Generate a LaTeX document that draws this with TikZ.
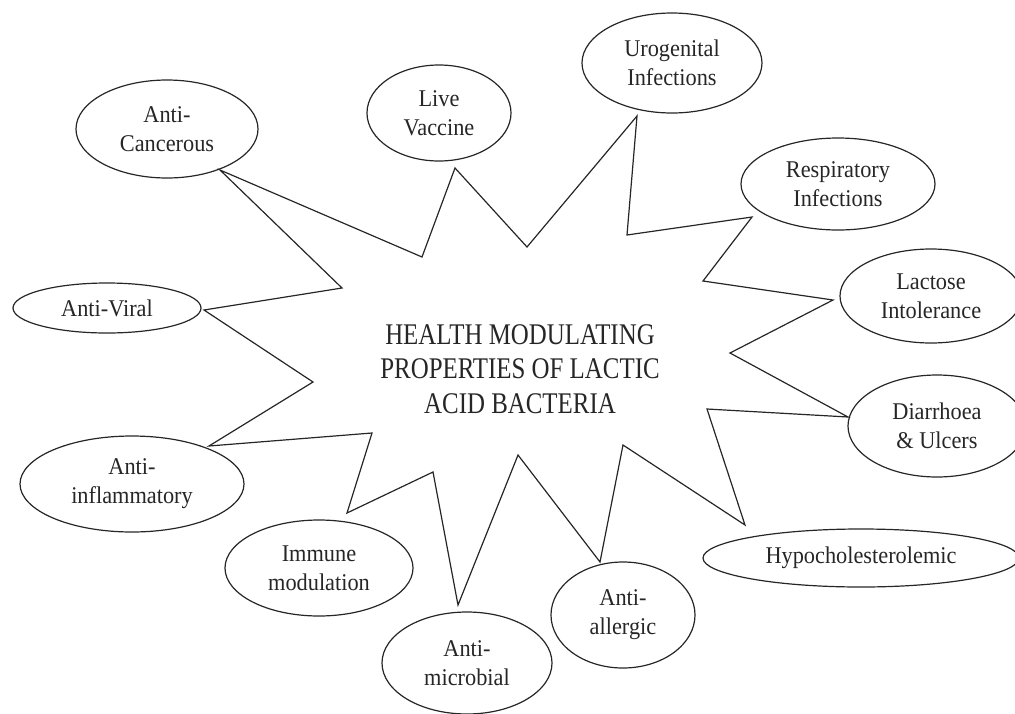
\documentclass[tikz,border=0pt]{standalone}
\usepackage{fontspec}
\setmainfont{Liberation Serif}
\newfontfamily\lblfont[FakeStretch=0.93]{Liberation Serif}
\newfontfamily\ctrfont[FakeStretch=0.83]{Liberation Serif}
\usetikzlibrary{shapes.geometric}
\definecolor{ink}{HTML}{262626}
\begin{document}
\begin{tikzpicture}[x=1pt,y=-1pt,
  bub/.style={ellipse, draw=ink, line width=1.2pt, inner sep=0pt, align=center,
    text=ink, font=\lblfont\fontsize{24}{29}\selectfont},
  starline/.style={draw=ink, line width=1.2pt, line join=miter},
  title/.style={text=ink, align=center, font=\ctrfont\fontsize{30}{34.5}\selectfont}]
\useasboundingbox (0,0) rectangle (1015,713);
\clip (0,0) rectangle (1015,713);

% bubbles
\node[bub, minimum width=182pt, minimum height=98pt]  (cancer) at (167,129) {Anti-\\Cancerous};
\node[bub, minimum width=144pt, minimum height=96pt]  (vaccine) at (439,113) {Live\\Vaccine};
\node[bub, minimum width=180pt, minimum height=100pt] (uro) at (672,63) {Urogenital\\Infections};
\node[bub, minimum width=194pt, minimum height=92pt]  (resp) at (838,184) {Respiratory\\Infections};
\node[bub, minimum width=182pt, minimum height=94pt]  (lact) at (931,296) {Lactose\\Intolerance};
\node[bub, minimum width=178pt, minimum height=102pt] (diarr) at (937,426) {Diarrhoea\\\& Ulcers};
\node[bub, minimum width=316pt, minimum height=58pt]  (hypo) at (861,558) {Hypocholesterolemic};
\node[bub, minimum width=144pt, minimum height=106pt] (allerg) at (623,615) {Anti-\\allergic};
\node[bub, minimum width=170pt, minimum height=102pt] (micro) at (467,663) {Anti-\\microbial};
\node[bub, minimum width=188pt, minimum height=96pt]  (immune) at (319,568) {Immune\\modulation};
\node[bub, minimum width=224pt, minimum height=96pt]  (inflam) at (132,484) {Anti-\\inflammatory};
\node[bub, minimum width=188pt, minimum height=50pt]  (viral) at (107,308) {Anti-Viral};

% central title
\node[title] (ttl) at (520,369) {HEALTH MODULATING\\PROPERTIES OF LACTIC\\ACID BACTERIA};

% star vertices
\coordinate (p1)  at (220,170);
\coordinate (q1)  at (422,257);
\coordinate (p2)  at (455,168);
\coordinate (q2)  at (527,247);
\coordinate (p3)  at (637,116);
\coordinate (q3)  at (627,235);
\coordinate (p4)  at (752,217);
\coordinate (q4)  at (703,281);
\coordinate (p5)  at (833,300);
\coordinate (q5)  at (730,353);
\coordinate (p6)  at (848,417);
\coordinate (q6)  at (707,409);
\coordinate (p7)  at (745,525);
\coordinate (q7)  at (623,445);
\coordinate (p8)  at (600,562);
\coordinate (q8)  at (518,455);
\coordinate (p9)  at (458,605);
\coordinate (q9)  at (433,472);
\coordinate (p10) at (347,513);
\coordinate (q10) at (372,433);
\coordinate (p11) at (209,446);
\coordinate (q11) at (313,382);
\coordinate (p12) at (204,310);
\coordinate (q12) at (342,288);

\draw[starline] (p1) -- (q1) -- (p2) -- (q2) -- (p3) -- (q3) -- (p4) -- (q4)
  -- (p5) -- (q5) -- (p6) -- (q6) -- (p7) -- (q7) -- (p8) -- (q8) -- (p9)
  -- (q9) -- (p10) -- (q10) -- (p11) -- (q11) -- (p12) -- (q12) -- cycle;
\end{tikzpicture}
\end{document}
